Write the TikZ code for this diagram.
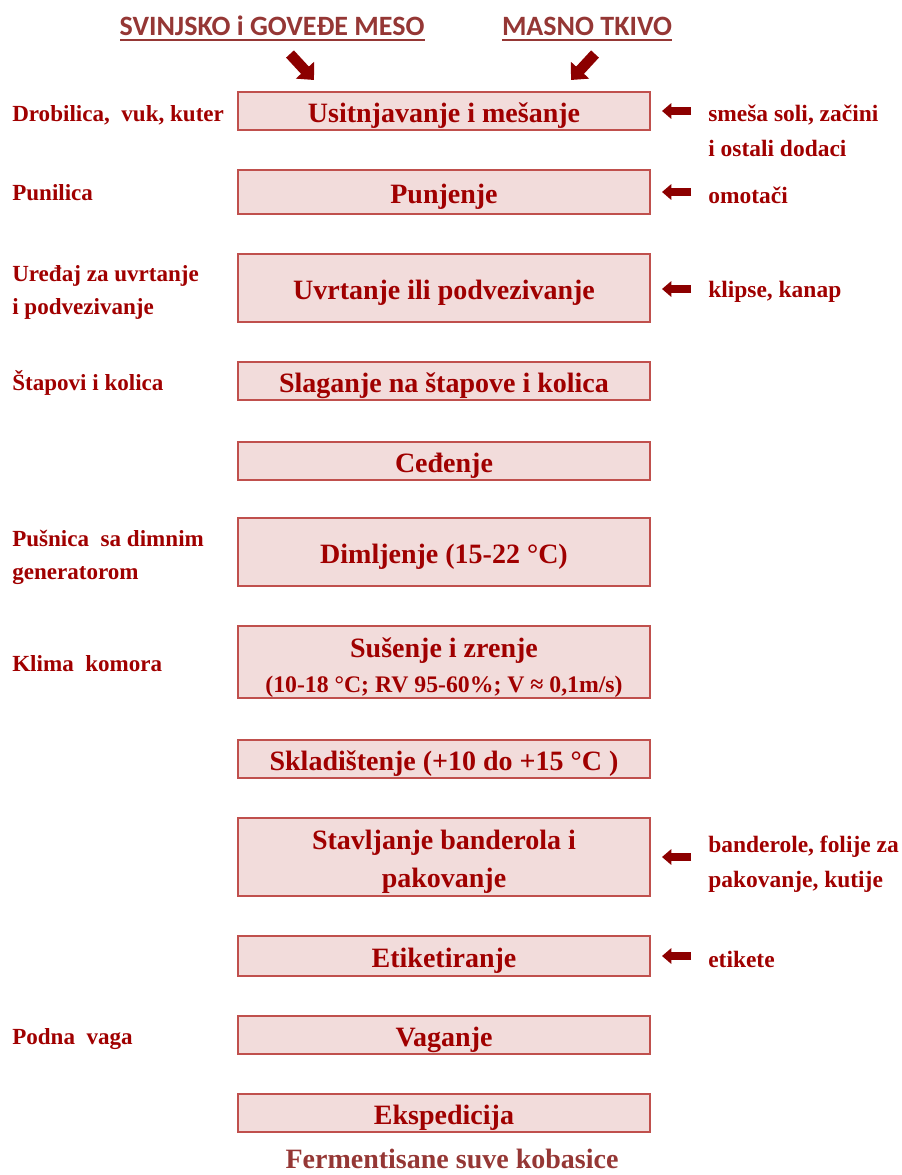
\documentclass[tikz,border=0pt]{standalone}
\usepackage{fontspec}
\setmainfont{Liberation Serif}
\newfontfamily\titlefont{Carlito}
\usetikzlibrary{arrows.meta}
\definecolor{boxfill}{RGB}{242,220,219}
\definecolor{boxdraw}{RGB}{192,80,77}
\definecolor{txtred}{RGB}{160,0,0}
\definecolor{arrred}{RGB}{140,0,0}
\definecolor{titlered}{RGB}{149,55,53}
\begin{document}
\begin{tikzpicture}[x=0.75pt,y=-0.75pt,
  stepbox/.style={draw=boxdraw, line width=1.3pt, fill=boxfill, minimum width=309pt,
    inner sep=0pt, text=txtred, text height=16.5pt, text depth=0pt,
    font=\fontsize{21}{27.75}\selectfont\bfseries},
  emptybox/.style={draw=boxdraw, line width=1.3pt, fill=boxfill, minimum width=309pt, inner sep=0pt},
  boxline/.style={anchor=base, inner sep=0pt, text=txtred, font=\fontsize{21}{27.75}\selectfont\bfseries},
  bh/.style={minimum height=#1*0.75pt},
  leftlab/.style={anchor=west, inner sep=0pt, align=left, text=txtred,
    font=\fontsize{17.3}{24.75}\selectfont\bfseries},
  rightlab/.style={anchor=west, inner sep=0pt, align=left, text=txtred,
    font=\fontsize{17.6}{26.25}\selectfont\bfseries},
  ptr/.style={arrred, line width=5.5pt, -{Triangle[length=7pt,width=11.5pt]}},
  topptr/.style={arrred, line width=8pt, -{Triangle[length=10pt,width=18pt]}},
  titlelab/.style={anchor=base, inner sep=0pt, text=titlered, font=\titlefont\fontsize{21}{24}\selectfont\bfseries},
  uline/.style={titlered, line width=1.2pt}
]
\useasboundingbox (0,0) rectangle (901,1175);

% titles
\node[titlelab] (t1) at (272,35) {SVINJSKO i GOVEĐE MESO};
\node[titlelab] (t2) at (587,35) {MASNO TKIVO};
\coordinate (u1a) at (120,40); \coordinate (u1b) at (425,40);
\coordinate (u2a) at (502,40); \coordinate (u2b) at (672,40);
\draw[uline] (u1a) -- (u1b);
\draw[uline] (u2a) -- (u2b);

% top arrows
\coordinate (a1s) at (290,54); \coordinate (a1e) at (314,80);
\coordinate (a2s) at (595,54); \coordinate (a2e) at (571,80);
\draw[topptr] (a1s) -- (a1e);
\draw[topptr] (a2s) -- (a2e);

% process boxes
\node[stepbox, bh=38] (b1) at (444,111) {Usitnjavanje i mešanje};
\node[stepbox, bh=44] (b2) at (444,192) {Punjenje};
\node[stepbox, bh=68] (b3) at (444,288) {Uvrtanje ili podvezivanje};
\node[stepbox, bh=38] (b4) at (444,381) {Slaganje na štapove i kolica};
\node[stepbox, bh=38] (b5) at (444,461) {Ceđenje};
\node[stepbox, bh=68] (b6) at (444,552) {Dimljenje (15-22 °C)};
\node[emptybox, bh=72] (b7) at (444,662) {};
\node[boxline] (b7a) at (444,657) {Sušenje i zrenje};
\node[boxline, font=\fontsize{17.8}{22}\selectfont\bfseries] (b7b) at (444,692) {(10-18 °C; RV 95-60\%; V ≈ 0,1m/s)};
\node[stepbox, bh=38] (b8) at (444,759) {Skladištenje (+10 do +15 °C )};
\node[emptybox, bh=78] (b9) at (444,857) {};
\node[boxline] (b9a) at (444,849) {Stavljanje banderola i};
\node[boxline] (b9b) at (444,887) {pakovanje};
\node[stepbox, bh=40] (b10) at (444,956) {Etiketiranje};
\node[stepbox, bh=38] (b11) at (444,1035) {Vaganje};
\node[stepbox, bh=38] (b12) at (444,1113) {Ekspedicija};

\node[anchor=center, inner sep=0pt, text=titlered, font=\fontsize{21}{24}\selectfont\bfseries] (fin) at (452,1159) {Fermentisane suve kobasice};

% left labels
\node[leftlab] (l1) at (12,115) {Drobilica,\ \ vuk,\ kuter};
\node[leftlab] (l2) at (12,193) {Punilica};
\node[leftlab] (l3) at (12,292) {Uređaj za uvrtanje\\i podvezivanje};
\node[leftlab] (l4) at (12,383) {Štapovi i kolica};
\node[leftlab] (l6) at (12,557) {Pušnica\ \ sa dimnim\\generatorom};
\node[leftlab] (l7) at (12,664) {Klima\ \ komora};
\node[leftlab] (l11) at (12,1039) {Podna\ \ vaga};

% right labels
\node[rightlab] (r1) at (708,131) {smeša soli, začini\\i ostali dodaci};
\node[rightlab] (r2) at (708,195) {omotači};
\node[rightlab] (r3) at (708,292) {klipse, kanap};
\node[rightlab] (r9) at (708,864) {banderole, folije za\\pakovanje, kutije};
\node[rightlab] (r10) at (708,959) {etikete};

% right pointer arrows
\coordinate (p1s) at (691,111); \coordinate (p1e) at (662,111);
\coordinate (p2s) at (691,192); \coordinate (p2e) at (662,192);
\coordinate (p3s) at (691,289); \coordinate (p3e) at (662,289);
\coordinate (p9s) at (691,857); \coordinate (p9e) at (662,857);
\coordinate (p10s) at (691,956); \coordinate (p10e) at (662,956);
\draw[ptr] (p1s) -- (p1e);
\draw[ptr] (p2s) -- (p2e);
\draw[ptr] (p3s) -- (p3e);
\draw[ptr] (p9s) -- (p9e);
\draw[ptr] (p10s) -- (p10e);
\end{tikzpicture}
\end{document}
